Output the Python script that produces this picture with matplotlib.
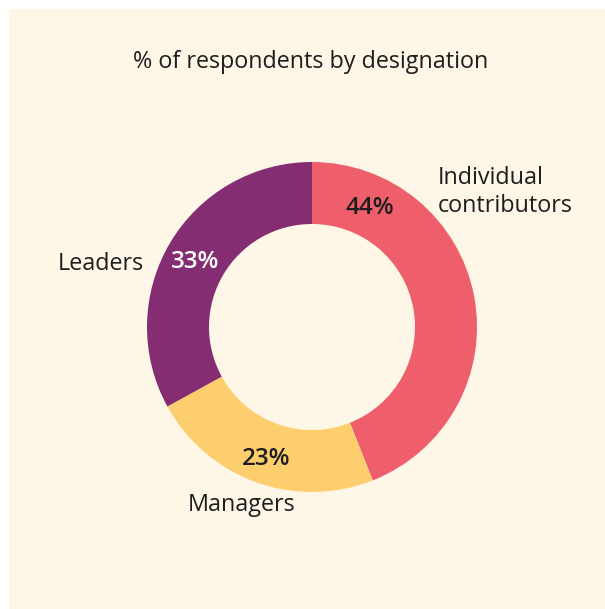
import matplotlib.pyplot as plt
import numpy as np
from matplotlib.patches import Rectangle

plt.rcParams['font.family'] = ['Open Sans', 'DejaVu Sans']

# data
categories = ['Individual\ncontributors', 'Managers', 'Leaders']
values = [44, 23, 33]
colors = ['#EE5F6B', '#FDCE6E', '#842D72']
pct_colors = ['#1E1E1E', '#1E1E1E', '#FFFFFF']

W, H = 605, 609
fig = plt.figure(figsize=(W / 100, H / 100), dpi=100, facecolor='white')
fig.patches.append(Rectangle((9 / W, 0), 1 - 9 / W, 1 - 9 / H,
                             transform=fig.transFigure, facecolor='#FEF6E7',
                             edgecolor='none', zorder=-1))

ax = fig.add_axes([0, 0, 1, 1])
ax.axis('off')
ax.patch.set_alpha(0)

cx, cy = 312, H - 327
r_out, r_in = 165, 103
ax.pie(values, colors=colors, startangle=90, counterclock=False,
       center=(cx, cy), radius=r_out,
       wedgeprops=dict(width=r_out - r_in, edgecolor='none'))
ax.set_xlim(0, W)
ax.set_ylim(0, H)
ax.set_aspect('equal')

# percentage labels (first one nudged toward the top, as in the original)
total = sum(values)
cum = np.cumsum([0] + values[:-1])
fracs = [(c + v / 2) / total for c, v in zip(cum, values)]
fracs[0] = 0.07
r_mid = (r_out + r_in) / 2 + 2
for f, v, col in zip(fracs, values, pct_colors):
    a = np.deg2rad(90 - 360 * f)
    ax.text(cx + r_mid * np.cos(a), cy + r_mid * np.sin(a) - 4, f'{v}%',
            ha='center', va='center', fontsize=17.5, fontweight='semibold', color=col)

# category labels
ax.text(438, H - 192, categories[0], ha='left', va='center', fontsize=16.8,
        color='#1E1E1E', linespacing=1.27)
ax.text(242, H - 505, categories[1], ha='center', va='center', fontsize=16.8, color='#1E1E1E')
ax.text(144, H - 264, categories[2], ha='right', va='center', fontsize=16.8, color='#1E1E1E')

ax.text(311, H - 62, '% of respondents by designation', ha='center', va='center',
        fontsize=16.8, color='#1E1E1E')

fig.savefig('out.png', dpi=100, facecolor='white')
